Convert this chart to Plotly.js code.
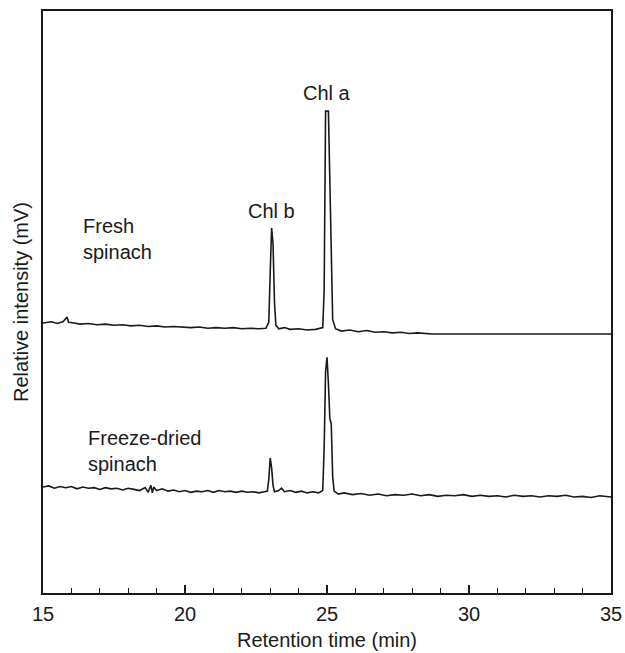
<!DOCTYPE html>
<html>
<head>
<meta charset="utf-8">
<script src="https://cdn.plot.ly/plotly-3.0.1.min.js"></script>
<style>html,body{margin:0;padding:0;background:#fff;}</style>
</head>
<body>
<div id="chart" style="width:625px;height:653px;"></div>
<script>
// Retention time (min) and relative intensity (arbitrary offset units)
const freshTime = [15.0,15.3,15.5,15.7,15.85,15.9,16.1,16.3,16.6,16.9,17.2,17.5,17.8,18.1,18.4,18.7,19.0,19.3,19.6,19.9,20.2,20.5,20.8,21.1,21.4,21.7,22.0,22.3,22.6,22.85,22.95,23.0,23.05,23.1,23.15,23.2,23.3,23.5,23.7,24.0,24.3,24.6,24.85,24.9,24.95,25.05,25.1,25.15,25.2,25.3,25.5,25.8,26.1,26.4,26.7,27.0,27.3,27.6,27.9,28.2,28.5,28.7,35.0];
const freshSignal = [46.4,46.6,46.3,46.6,47.4,46.5,46.4,46.2,46.3,46.1,46.2,46.0,46.1,45.9,46.0,45.8,45.9,45.7,45.8,45.7,45.6,45.7,45.5,45.6,45.5,45.6,45.4,45.5,45.4,45.5,46.5,55.0,62.7,60.0,50.0,46.0,45.4,45.6,45.3,45.4,45.2,45.3,45.6,52.0,82.8,82.8,70.0,55.0,47.0,45.4,45.0,45.2,44.9,45.1,44.8,44.9,44.7,44.8,44.6,44.7,44.6,44.5,44.5];

const driedTime = [15.0,15.2,15.4,15.6,15.8,16.0,16.2,16.4,16.6,16.8,17.0,17.2,17.4,17.6,17.8,18.0,18.2,18.4,18.6,18.7,18.8,18.85,18.9,19.0,19.2,19.4,19.6,19.8,20.0,20.2,20.4,20.6,20.8,21.0,21.2,21.4,21.6,21.8,22.0,22.2,22.4,22.6,22.8,22.9,22.95,23.0,23.05,23.1,23.15,23.3,23.4,23.5,23.7,23.9,24.1,24.3,24.5,24.7,24.85,24.9,24.95,25.0,25.05,25.1,25.15,25.2,25.25,25.4,25.6,25.9,26.2,26.5,26.8,27.1,27.4,27.7,28.0,28.3,28.6,28.9,29.2,29.5,29.8,30.1,30.4,30.7,31.0,31.3,31.6,31.9,32.2,32.5,32.8,33.1,33.4,33.7,34.0,34.3,34.6,35.0];
const driedSignal = [18.2,18.4,18.0,18.3,18.1,18.3,17.9,18.2,18.0,18.1,17.8,18.1,17.9,18.0,17.7,18.0,17.8,17.6,18.1,17.3,18.5,17.2,18.2,17.6,17.9,17.5,17.7,17.4,17.6,17.3,17.5,17.4,17.6,17.3,17.6,17.4,17.5,17.3,17.5,17.3,17.4,17.2,17.4,17.5,19.5,23.2,21.5,18.5,17.4,17.6,18.0,17.4,17.6,17.3,17.5,17.2,17.4,17.2,17.6,25.0,38.0,40.5,36.0,30.0,29.0,20.0,17.5,17.0,17.2,16.9,17.1,16.8,17.0,16.7,16.9,16.8,17.0,16.7,16.9,16.6,16.8,16.7,16.9,16.6,16.8,16.6,16.7,16.5,16.8,16.6,16.7,16.5,16.7,16.6,16.8,16.5,16.6,16.4,16.7,16.5];

const sampleLabels = ["Fresh<br>spinach", "Freeze-dried<br>spinach"];
const peakLabels = ["Chl b", "Chl a"];

const ink = "#1a1a1a";
const lineStyle = {color: ink, width: 1.6};
const data = [
  {x: freshTime, y: freshSignal, type: "scatter", mode: "lines", line: lineStyle, hoverinfo: "skip"},
  {x: driedTime, y: driedSignal, type: "scatter", mode: "lines", line: lineStyle, hoverinfo: "skip"}
];

const txtFont = {family: "Liberation Sans, Arial, sans-serif", size: 20, color: ink};
const layout = {
  width: 625, height: 653,
  margin: {l: 43, r: 14, t: 11, b: 60},
  paper_bgcolor: "#fff", plot_bgcolor: "#fff",
  showlegend: false,
  font: txtFont,
  xaxis: {
    range: [15, 35], dtick: 5, tick0: 15,
    ticks: "inside", ticklen: 8, tickwidth: 1.5, tickcolor: ink,
    minor: {dtick: 1, ticks: "inside", ticklen: 5, tickwidth: 1.2, tickcolor: ink},
    showline: true, linecolor: ink, linewidth: 1.6, mirror: true,
    showgrid: false, zeroline: false,
    tickfont: txtFont, ticklabelstandoff: 2,
    title: {text: "Retention time (min)", font: txtFont, standoff: 9}
  },
  yaxis: {
    range: [0, 100],
    showticklabels: false, ticks: "",
    showline: true, linecolor: ink, linewidth: 1.6, mirror: true,
    showgrid: false, zeroline: false,
    title: {text: "Relative intensity (mV)", font: txtFont, standoff: 7}
  },
  annotations: [
    {x: 16.35, y: 60.8, text: sampleLabels[0], showarrow: false, xanchor: "left", yanchor: "middle", align: "left", font: txtFont},
    {x: 16.5, y: 24.4, text: sampleLabels[1], showarrow: false, xanchor: "left", yanchor: "middle", align: "left", font: txtFont},
    {x: 23.05, y: 65.6, text: peakLabels[0], showarrow: false, xanchor: "center", yanchor: "middle", font: txtFont},
    {x: 25.0, y: 85.9, text: peakLabels[1], showarrow: false, xanchor: "center", yanchor: "middle", font: txtFont}
  ]
};
Plotly.newPlot("chart", data, layout, {staticPlot: true, displayModeBar: false});
</script>
</body>
</html>
